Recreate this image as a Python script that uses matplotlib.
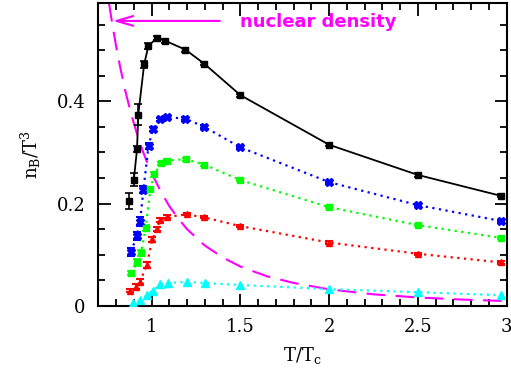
import matplotlib
matplotlib.use("Agg")
import matplotlib.pyplot as plt
from matplotlib.ticker import MultipleLocator, FixedLocator

# ---- data ----
black_T = [0.875, 0.900, 0.918, 0.925, 0.958, 0.982, 1.030, 1.078, 1.190, 1.298, 1.500, 2.000, 2.500, 2.970]
black_n = [0.205, 0.247, 0.306, 0.374, 0.472, 0.508, 0.524, 0.518, 0.501, 0.473, 0.412, 0.315, 0.256, 0.215]
black_err = [0.016, 0.012, 0.006, 0.021, 0.007, 0.005, 0.004, 0.004, 0.004, 0.003, 0.003, 0.003, 0.003, 0.003]

blue_T = [0.885, 0.916, 0.935, 0.954, 0.983, 1.007, 1.048, 1.087, 1.190, 1.297, 1.500, 2.000, 2.500, 2.970]
blue_n = [0.106, 0.137, 0.165, 0.227, 0.313, 0.345, 0.365, 0.369, 0.366, 0.350, 0.310, 0.242, 0.197, 0.166]
blue_err = [0.008, 0.008, 0.008, 0.007, 0.006, 0.004, 0.003, 0.003, 0.003, 0.003, 0.002, 0.002, 0.002, 0.002]

green_T = [0.885, 0.920, 0.940, 0.967, 0.993, 1.015, 1.052, 1.087, 1.192, 1.298, 1.500, 2.000, 2.500, 2.970]
green_n = [0.064, 0.085, 0.103, 0.153, 0.228, 0.257, 0.279, 0.284, 0.287, 0.276, 0.246, 0.193, 0.158, 0.133]
green_err = [0.004, 0.006, 0.006, 0.006, 0.005, 0.004, 0.003, 0.003, 0.003, 0.003, 0.002, 0.002, 0.002, 0.002]

red_T = [0.879, 0.910, 0.935, 0.972, 1.005, 1.028, 1.050, 1.088, 1.198, 1.298, 1.500, 2.000, 2.500, 2.970]
red_n = [0.030, 0.038, 0.047, 0.080, 0.130, 0.151, 0.168, 0.174, 0.179, 0.173, 0.156, 0.124, 0.102, 0.085]
red_err = [0.003, 0.004, 0.005, 0.006, 0.005, 0.004, 0.003, 0.003, 0.002, 0.002, 0.002, 0.002, 0.002, 0.002]

cyan_T = [0.897, 0.935, 0.972, 1.007, 1.050, 1.090, 1.198, 1.300, 1.500, 2.000, 2.500, 2.970]
cyan_n = [0.005, 0.012, 0.021, 0.030, 0.042, 0.045, 0.047, 0.045, 0.041, 0.033, 0.027, 0.021]

nuc_T = [0.76, 0.78, 0.80, 0.82, 0.85, 0.88, 0.90, 0.92, 0.95, 0.97, 1.00, 1.05, 1.10, 1.15, 1.20,
         1.30, 1.40, 1.50, 1.65, 1.80, 2.00, 2.25, 2.50, 2.75, 3.00]
nuc_n = [0.592, 0.548, 0.508, 0.472, 0.423, 0.382, 0.357, 0.334, 0.303, 0.285, 0.260, 0.225, 0.195,
         0.171, 0.150, 0.118, 0.095, 0.077, 0.058, 0.045, 0.0325, 0.0228, 0.0166, 0.0125, 0.0096]

x_ticks = [1, 1.5, 2, 2.5, 3]
x_ticklabels = ["1", "1.5", "2", "2.5", "3"]
y_ticks = [0, 0.2, 0.4]
y_ticklabels = ["0", "0.2", "0.4"]

plt.rcParams['font.family'] = ['DejaVu Serif']
plt.rcParams['mathtext.fontset'] = 'dejavuserif'

fig = plt.figure(figsize=(5.11, 3.81), dpi=100)
ax = fig.add_axes([0.1924, 0.1969, 0.7992, 0.7952])

# magenta nuclear density curve
ax.plot(nuc_T, nuc_n, color='#ff00ff', lw=1.5, dashes=(9, 5), zorder=2)

# series
ax.plot(black_T[1:], black_n[1:], color='black', lw=1.3, zorder=3)
ax.errorbar(black_T, black_n, yerr=black_err, fmt='s', color='black', ms=5,
            capsize=3, elinewidth=1.2, capthick=1.2, zorder=4)

ax.plot(blue_T, blue_n, color='#0000ff', lw=1.6, ls=(0, (1, 2)), zorder=3)
ax.errorbar(blue_T, blue_n, yerr=blue_err, fmt='X', color='#0000ff', ms=6,
            capsize=3, elinewidth=1.2, capthick=1.5, zorder=4)

ax.plot(green_T, green_n, color='#00ff00', lw=1.6, ls=(0, (1, 2)), zorder=3)
ax.errorbar(green_T, green_n, yerr=green_err, fmt='s', color='#00ff00', ms=5,
            capsize=3, elinewidth=1.2, capthick=1.2, zorder=4)

ax.plot(red_T, red_n, color='#ff0000', lw=1.6, ls=(0, (1, 2)), zorder=3)
ax.errorbar(red_T, red_n, yerr=red_err, fmt='^', color='#ff0000', ms=5,
            capsize=3, elinewidth=1.2, capthick=1.5, zorder=4)

ax.plot(cyan_T, cyan_n, color='#00ffff', lw=1.6, ls=(0, (1, 2)), zorder=3)
ax.plot(cyan_T, cyan_n, '^', color='#00ffff', ms=6, zorder=4)

# arrow and text
ax.annotate('', xy=(0.766, 0.557), xytext=(1.40, 0.557),
            arrowprops=dict(arrowstyle='->,head_length=1.2,head_width=0.35',
                            color='#ff00ff', lw=1.5))
ax.text(1.50, 0.555, 'nuclear density', color='#ff00ff', fontsize=13,
        fontweight='bold', family='DejaVu Sans', va='center', ha='left')

ax.set_xlim(0.7, 3.0)
ax.set_ylim(0, 0.592)
ax.xaxis.set_major_locator(FixedLocator(x_ticks))
ax.set_xticklabels(x_ticklabels)
ax.xaxis.set_minor_locator(MultipleLocator(0.1))
ax.yaxis.set_major_locator(FixedLocator(y_ticks))
ax.set_yticklabels(y_ticklabels)
ax.yaxis.set_minor_locator(MultipleLocator(0.05))
ax.tick_params(which='both', direction='in', top=True, right=True, labelsize=13, width=1.3)
ax.tick_params(which='major', length=9, pad=9)
ax.tick_params(which='minor', length=5)
for s in ax.spines.values():
    s.set_linewidth(1.5)

ax.set_xlabel(r'T/T$_\mathregular{c}$', fontsize=13, labelpad=6)
ax.set_ylabel(r'n$_\mathregular{B}$/T$^\mathregular{3}$', fontsize=13, labelpad=10)

fig.savefig('out.png', dpi=100)
